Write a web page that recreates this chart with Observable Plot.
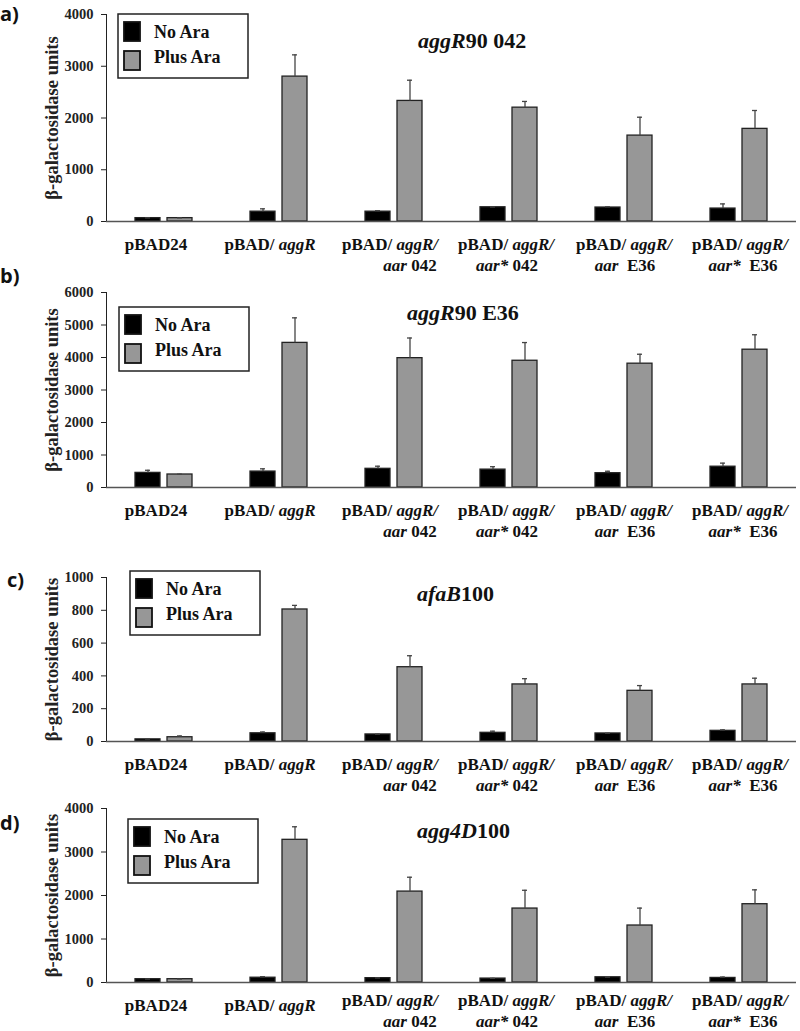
<!DOCTYPE html>
<html><head><meta charset="utf-8">
<script src="https://cdn.jsdelivr.net/npm/d3@7"></script>
<script src="https://cdn.jsdelivr.net/npm/@observablehq/plot@0.6"></script>
<style>
body{margin:0;background:#fff}
#wrap{position:relative;width:800px;height:1031px;overflow:hidden;background:#fff}
#wrap svg{position:absolute;left:0;overflow:visible}
g[aria-label="y-axis tick label"]{font-size:14.5px}
g[aria-label="y-axis label"]{font-size:18.5px}
</style></head><body><div id="wrap"></div>
<script>
// ---- data ----
const catLine1 = ["pBAD24", "pBAD/ aggR", "pBAD/ aggR/", "pBAD/ aggR/", "pBAD/ aggR/", "pBAD/ aggR/"];
const catLine2 = ["", "", "aar 042", "aar* 042", "aar  E36", "aar*  E36"];
const categories = catLine1.map((l, i) => catLine2[i] ? l + " " + catLine2[i] : l);
const conditions = ["No Ara", "Plus Ara"];
const panelLetters = ["a)", "b)", "c)", "d)"];
const titles = ["aggR90 042", "aggR90 E36", "afaB100", "agg4D100"];
const yLabel = "β-galactosidase units";

const aNo = [65, 190, 190, 275, 270, 250];
const aNoErr = [5, 55, 20, 5, 15, 90];
const aPlus = [65, 2800, 2330, 2200, 1660, 1790];
const aPlusErr = [5, 420, 400, 120, 355, 355];

const bNo = [450, 490, 575, 550, 440, 640];
const bNoErr = [80, 85, 80, 90, 60, 110];
const bPlus = [400, 4450, 3980, 3900, 3810, 4240];
const bPlusErr = [10, 770, 620, 560, 290, 460];

const cNo = [13, 50, 43, 53, 49, 65];
const cNoErr = [2, 8, 2, 10, 2, 6];
const cPlus = [26, 805, 453, 348, 309, 348];
const cPlusErr = [8, 25, 70, 35, 32, 38];

const dNo = [76, 110, 100, 90, 120, 105];
const dNoErr = [3, 25, 5, 5, 5, 20];
const dPlus = [76, 3280, 2090, 1700, 1310, 1800];
const dPlusErr = [3, 300, 330, 420, 400, 330];

const yMax = [4000, 6000, 1000, 4000];
const yStep = [1000, 1000, 200, 1000];

// ---- layout / style ----
const fills = ["#000000", "#979797"];
const layout = [
  {top: 0,   height: 260, mt: 14, mb: 39, letter: [0, 21],  title: [418, 48], legend: [118, 14], shift: 0},
  {top: 260, height: 270, mt: 32, mb: 43, letter: [0, 23],  title: [407, 60], legend: [119, 47], shift: 0},
  {top: 530, height: 260, mt: 47, mb: 49, letter: [7, 57],  title: [417, 71], legend: [130, 41], shift: 0},
  {top: 790, height: 241, mt: 18, mb: 49, letter: [0, 40],  title: [417, 48], legend: [128, 29], shift: -5}
];
// horizontal nudges of the category labels (line 1, line 2), per category
const labelNudge = [[-8, 0], [-9, 0], [-4, 16], [-3, -2], [0, 1], [1, 4]];
const series = [[aNo, aNoErr, aPlus, aPlusErr], [bNo, bNoErr, bPlus, bPlusErr], [cNo, cNoErr, cPlus, cPlusErr], [dNo, dNoErr, dPlus, dPlusErr]];

const ns = "http://www.w3.org/2000/svg";
const italicRe = /(aggR\/|aggR|aar\*|aar|afaB|agg4D)/;
function italicize(el) {
  const leaves = [];
  const walk = n => { const k = [...n.children]; if (!k.length) leaves.push(n); else k.forEach(walk); };
  walk(el);
  for (const leaf of leaves) {
    const parts = leaf.textContent.split(italicRe);
    if (parts.length < 2) continue;
    leaf.textContent = "";
    parts.forEach((p, i) => {
      if (!p) return;
      const t = document.createElementNS(ns, "tspan");
      t.textContent = p;
      if (i % 2 === 1) t.setAttribute("font-style", "italic");
      leaf.appendChild(t);
    });
  }
}

const labelRows = categories.map((c, i) => ({cat: c, line1: catLine1[i], line2: catLine2[i], i}));
const serif = "'Liberation Serif','Times New Roman',serif";
const wrap = document.getElementById("wrap");

layout.forEach((L, p) => {
  const [no, noErr, plus, plusErr] = series[p];
  const rows = categories.flatMap((c, i) => [
    {cat: c, cond: conditions[0], value: no[i], err: noErr[i]},
    {cat: c, cond: conditions[1], value: plus[i], err: plusErr[i]}
  ]);
  const labelMarks = [];
  labelRows.forEach(r => {
    const [n1, n2] = labelNudge[r.i];
    const s = r.line2 ? L.shift : 0;
    labelMarks.push(Plot.text([r], {fx: "cat", text: "line1", frameAnchor: "bottom", lineAnchor: "top", dy: 16.6 + s, dx: n1, fontSize: 17, fontWeight: "bold", fill: "#111"}));
    if (r.line2) labelMarks.push(Plot.text([r], {fx: "cat", text: "line2", frameAnchor: "bottom", lineAnchor: "top", dy: 37.6 + s, dx: n2, fontSize: 17, fontWeight: "bold", fill: "#111"}));
  });
  const plot = Plot.plot({
    width: 800, height: L.height,
    marginLeft: 105, marginRight: 3, marginTop: L.mt, marginBottom: L.mb,
    style: {fontFamily: serif, fontWeight: "bold", color: "#222", background: "transparent", overflow: "visible"},
    fx: {domain: categories, padding: 0, axis: null, label: null},
    x: {domain: conditions, paddingInner: 0.212, paddingOuter: 0.853, axis: null},
    y: {domain: [0, yMax[p]], ticks: d3.range(0, yMax[p] + 1, yStep[p]), tickFormat: d => String(d),
        tickSize: 5, tickPadding: 8, line: true, label: yLabel, labelAnchor: "center", labelOffset: 62, labelArrow: "none"},
    color: {domain: conditions, range: fills},
    marks: [
      Plot.barY(rows, {fx: "cat", x: "cond", y: "value", fill: "cond", stroke: "#222", strokeWidth: 1.3}),
      Plot.ruleX(rows, {fx: "cat", x: "cond", y1: "value", y2: d => d.value + d.err, stroke: "#444", strokeWidth: 1.3}),
      Plot.tickY(rows, {fx: "cat", x: "cond", y: d => d.value + d.err, stroke: "#444", strokeWidth: 1.3, inset: 10}),
      Plot.ruleY([0], {stroke: "#555", strokeWidth: 1.6}),
      ...labelMarks
    ]
  });
  plot.style.top = L.top + "px";
  const svg = d3.select(plot);
  svg.selectAll('g[aria-label="y-axis label"] text').each(function () { this.textContent = this.textContent.replace(/[↑↓]\s*/g, ""); });
  svg.selectAll('g[aria-label="text"] text').each(function () { italicize(this); });

  // panel letter
  svg.append("text").attr("x", L.letter[0]).attr("y", L.letter[1]).attr("text-anchor", "start")
    .attr("font-family", "'Open Sans',sans-serif").attr("font-weight", "bold").attr("font-size", 20).attr("fill", "#111")
    .text(panelLetters[p]);
  // title
  const t = svg.append("text").attr("x", L.title[0]).attr("y", L.title[1]).attr("text-anchor", "start")
    .attr("font-family", serif).attr("font-weight", "bold").attr("font-size", 22).attr("fill", "#111")
    .text(titles[p]);
  italicize(t.node());
  // legend
  const g = svg.append("g").attr("transform", `translate(${L.legend[0]},${L.legend[1]})`).attr("text-anchor", "start");
  g.append("rect").attr("width", 130).attr("height", 64).attr("fill", "#fff").attr("stroke", "#222").attr("stroke-width", 1.5);
  conditions.forEach((c, i) => {
    g.append("rect").attr("x", 6).attr("y", 8 + i * 29).attr("width", 16).attr("height", 19)
      .attr("fill", fills[i]).attr("stroke", "#111").attr("stroke-width", 1.8);
    g.append("text").attr("x", 36).attr("y", 23.5 + i * 25).attr("font-family", serif).attr("font-weight", "bold")
      .attr("font-size", 18).attr("fill", "#111").text(c);
  });
  wrap.appendChild(plot);
});
</script></body></html>
